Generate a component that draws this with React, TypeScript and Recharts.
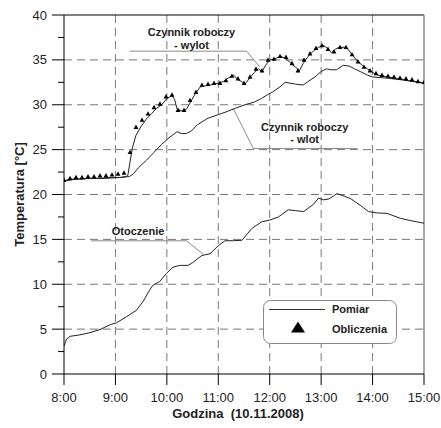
import React from "react"
import {
  ComposedChart,
  Line,
  Scatter,
  XAxis,
  YAxis,
  CartesianGrid,
  ReferenceLine,
  ReferenceDot,
  Legend,
} from "recharts"

// time in decimal hours, temperature in °C
const wylotPomiar: [number, number][] = [
  [8.0, 21.5], [8.1, 21.7], [8.3, 21.7], [8.5, 21.8], [8.7, 21.8], [8.9, 21.9],
  [9.1, 21.9], [9.2, 22.0], [9.24, 22.1], [9.28, 23.5], [9.33, 25.2], [9.4, 26.6],
  [9.5, 27.6], [9.6, 28.4], [9.7, 29.0], [9.8, 29.6], [9.9, 30.0], [10.0, 30.7],
  [10.1, 31.0], [10.15, 30.6], [10.2, 29.5], [10.3, 29.3], [10.38, 29.5], [10.45, 30.2],
  [10.55, 31.2], [10.65, 32.0], [10.75, 32.1], [10.85, 32.2], [11.0, 32.4], [11.1, 32.6],
  [11.2, 33.0], [11.3, 33.3], [11.38, 32.8], [11.45, 32.6], [11.52, 32.3], [11.6, 32.9],
  [11.7, 33.6], [11.78, 34.0], [11.85, 33.7], [11.92, 34.4], [12.0, 35.0], [12.1, 35.1],
  [12.2, 35.4], [12.3, 35.2], [12.4, 34.7], [12.5, 34.2], [12.58, 33.8], [12.65, 34.6],
  [12.75, 35.4], [12.85, 36.0], [12.95, 36.4], [13.05, 36.6], [13.12, 36.3], [13.2, 35.8],
  [13.28, 36.2], [13.35, 36.4], [13.45, 36.4], [13.52, 36.2], [13.6, 35.6], [13.7, 34.9],
  [13.8, 34.4], [13.9, 34.0], [14.0, 33.6], [14.1, 33.3], [14.3, 33.1], [14.5, 32.9],
  [14.7, 32.7], [14.9, 32.55], [15.0, 32.4],
]

const wlotPomiar: [number, number][] = [
  [8.0, 21.5], [8.2, 21.7], [8.5, 21.8], [8.8, 21.8], [9.1, 21.9], [9.27, 22.0],
  [9.35, 22.3], [9.45, 23.0], [9.6, 23.8], [9.75, 24.7], [9.9, 25.6], [10.06, 26.4],
  [10.2, 27.0], [10.28, 26.8], [10.38, 26.8], [10.48, 27.1], [10.6, 27.8], [10.8, 28.5],
  [11.0, 28.9], [11.15, 29.2], [11.33, 29.6], [11.52, 30.0], [11.7, 30.3], [11.84, 30.7],
  [11.95, 31.1], [12.05, 31.4], [12.2, 32.0], [12.3, 32.5], [12.5, 32.3], [12.65, 32.2],
  [12.75, 32.6], [12.88, 33.1], [13.0, 33.7], [13.1, 34.0], [13.2, 33.9], [13.3, 33.9],
  [13.43, 34.4], [13.55, 34.3], [13.65, 34.0], [13.76, 33.7], [13.9, 33.3], [14.0, 33.1],
  [14.3, 32.95], [14.6, 32.75], [15.0, 32.4],
]

const otoczenie: [number, number][] = [
  [8.0, 3.1], [8.05, 3.9], [8.12, 4.2], [8.3, 4.35], [8.5, 4.6], [8.7, 4.95],
  [8.9, 5.5], [9.02, 5.7], [9.22, 6.4], [9.41, 7.1], [9.54, 8.1], [9.67, 9.4],
  [9.73, 9.9], [9.86, 10.3], [9.99, 11.2], [10.12, 11.9], [10.25, 12.1], [10.41, 12.1],
  [10.5, 12.4], [10.68, 13.2], [10.84, 13.4], [11.0, 14.3], [11.13, 14.85], [11.29, 14.85],
  [11.46, 14.9], [11.65, 16.2], [11.84, 16.95], [12.0, 17.15], [12.17, 17.5], [12.36, 18.3],
  [12.5, 18.2], [12.66, 18.1], [12.85, 18.9], [12.95, 19.6], [13.04, 19.4], [13.15, 19.5],
  [13.31, 20.1], [13.57, 19.55], [13.76, 18.8], [13.92, 18.1], [14.08, 17.95], [14.28, 17.9],
  [14.54, 17.35], [14.73, 17.1], [15.0, 16.8],
]

const obliczeniaCzas = [
  "8:00", "8:07", "8:14", "8:21", "8:28", "8:35", "8:42", "8:49", "8:56", "9:03",
  "9:10", "9:17", "9:24", "9:31", "9:38", "9:45", "9:52", "9:59", "10:06", "10:13",
  "10:20", "10:27", "10:34", "10:41", "10:48", "10:55", "11:02", "11:09", "11:16", "11:23",
  "11:30", "11:37", "11:44", "11:51", "11:58", "12:05", "12:12", "12:19", "12:26", "12:33",
  "12:40", "12:47", "12:54", "13:01", "13:08", "13:15", "13:22", "13:29", "13:36", "13:43",
  "13:50", "13:57", "14:04", "14:11", "14:18", "14:25", "14:32", "14:39", "14:46", "14:53",
  "15:00",
]
const obliczeniaWylot = [
  21.6, 21.8, 21.9, 21.9, 22.0, 22.0, 22.1, 22.1, 22.2, 22.3,
  22.4, 24.7, 27.5, 28.3, 29.0, 29.7, 30.1, 30.9, 31.1, 29.4,
  29.4, 30.5, 31.4, 32.2, 32.3, 32.4, 32.4, 32.7, 33.2, 32.9,
  32.4, 33.1, 34.0, 33.8, 35.0, 35.1, 35.4, 35.3, 34.6, 33.8,
  35.0, 35.7, 36.3, 36.6, 36.2, 35.9, 36.4, 36.4, 35.6, 34.8,
  34.2, 33.8, 33.5, 33.3, 33.2, 33.1, 33.0, 32.9, 32.8, 32.6,
  32.5,
]

const xTicks = [8, 9, 10, 11, 12, 13, 14, 15]
const yTicks = [0, 2.5, 5, 7.5, 10, 12.5, 15, 17.5, 20, 22.5, 25, 27.5, 30, 32.5, 35, 37.5, 40]
const yGrid = [5, 10, 15, 20, 25, 30, 35]

const toRows = (pts: [number, number][]) => pts.map(([t, v]) => ({ t, v }))
const parseTime = (s: string) => {
  const [h, m] = s.split(":").map(Number)
  return h + m / 60
}
const calcRows = obliczeniaCzas.map((s, i) => ({ t: parseTime(s), v: obliczeniaWylot[i] }))

const FONT = "'Liberation Sans', Arial, sans-serif"
const LEADER = "#8a8a8a"

const YTick = (props: any) => {
  const { x, y, payload } = props
  const major = payload.value % 5 === 0
  const axisX = x + 12 + 5
  return (
    <g>
      <line x1={axisX - (major ? 12 : 6)} x2={axisX} y1={y} y2={y} stroke="#000" />
      {major && (
        <text x={x} y={y} dy={4.5} textAnchor="end" fontSize={13} fill="#222" fontFamily={FONT}>
          {payload.value}
        </text>
      )}
    </g>
  )
}

const Triangle = (props: any) => {
  const { cx, cy } = props
  return <polygon points={`${cx},${cy - 2.6} ${cx + 2.4},${cy + 1.8} ${cx - 2.4},${cy + 1.8}`} fill="#000" />
}

const noteText = (lines: string[]) => (props: any) => {
  const { cx, cy } = props
  return (
    <text x={cx} y={cy} textAnchor="middle" fontSize={11} fontWeight="bold" fill="#222" fontFamily={FONT}>
      {lines.map((l, i) => (
        <tspan key={i} x={cx} dy={i === 0 ? 0 : 12.5}>
          {l}
        </tspan>
      ))}
    </text>
  )
}

const LegendBox = () => (
  <svg width={134} height={44} style={{ display: "block" }}>
    <rect x={0.5} y={0.5} width={133} height={43} rx={7} fill="#fff" stroke="#888" />
    <line x1={6} y1={9.5} x2={62} y2={9.5} stroke="#333" />
    <text x={69} y={13} fontSize={11} fontWeight="bold" fill="#222" fontFamily={FONT}>
      Pomiar
    </text>
    <polygon points="35,21.5 42,32.5 28,32.5" fill="#000" />
    <text x={69} y={32.5} fontSize={11} fontWeight="bold" fill="#222" fontFamily={FONT}>
      Obliczenia
    </text>
  </svg>
)

export default function App() {
  return (
    <div style={{ position: "absolute", left: 0, top: 0, width: 441, height: 428, background: "#fff" }}>
      <ComposedChart width={441} height={428} margin={{ top: 15, right: 17, bottom: 12, left: 0 }}>
        <CartesianGrid
          stroke="#777"
          strokeDasharray="8 5"
          horizontalValues={yGrid}
          verticalValues={[9, 10, 11, 12, 13, 14]}
        />
        <XAxis
          dataKey="t"
          type="number"
          domain={[8, 15]}
          ticks={xTicks}
          allowDataOverflow
          tickFormatter={(h: number) => `${h}:00`}
          stroke="#000"
          tickSize={11}
          tickMargin={8}
          height={42}
          tick={{ fontSize: 13, fill: "#222", fontFamily: FONT }}
          label={{
            content: (p: any) => {
              const vb = p.viewBox
              return (
                <text
                  x={vb.x + vb.width / 2 - 6}
                  y={vb.y + 44}
                  textAnchor="middle"
                  fontSize={13}
                  fontWeight="bold"
                  fill="#222"
                  fontFamily={FONT}
                  style={{ whiteSpace: "pre" }}
                >
                  {"Godzina  (10.11.2008)"}
                </text>
              )
            },
          }}
        />
        <YAxis
          type="number"
          domain={[0, 40]}
          ticks={yTicks}
          interval={0}
          width={64}
          stroke="#000"
          tickSize={12}
          tickMargin={5}
          tickLine={false}
          tick={<YTick />}
          label={{
            content: (p: any) => {
              const vb = p.viewBox
              const cy = vb.y + vb.height / 2
              return (
                <text
                  x={24}
                  y={cy}
                  transform={`rotate(-90, 24, ${cy})`}
                  textAnchor="middle"
                  fontSize={13}
                  fontWeight="bold"
                  fill="#222"
                  fontFamily={FONT}
                >
                  Temperatura [°C]
                </text>
              )
            },
          }}
        />
        <ReferenceLine y={40} stroke="#000" />
        <ReferenceLine x={15} stroke="#888" strokeWidth={1.5} />

        {/* leader lines */}
        <ReferenceLine segment={[{ x: 9.28, y: 35.97 }, { x: 11.55, y: 35.97 }]} stroke={LEADER} />
        <ReferenceLine segment={[{ x: 11.55, y: 35.97 }, { x: 11.81, y: 34.19 }]} stroke={LEADER} />
        <ReferenceLine segment={[{ x: 11.29, y: 29.59 }, { x: 11.68, y: 25.13 }]} stroke={LEADER} />
        <ReferenceLine segment={[{ x: 11.68, y: 25.13 }, { x: 13.7, y: 25.13 }]} stroke={LEADER} />
        <ReferenceLine segment={[{ x: 8.53, y: 14.84 }, { x: 10.38, y: 14.84 }]} stroke={LEADER} />
        <ReferenceLine segment={[{ x: 10.38, y: 14.84 }, { x: 10.71, y: 13.33 }]} stroke={LEADER} />

        <Line data={toRows(otoczenie)} dataKey="v" type="linear" stroke="#222" strokeWidth={1} dot={false} isAnimationActive={false} />
        <Line data={toRows(wlotPomiar)} dataKey="v" type="linear" stroke="#222" strokeWidth={1} dot={false} isAnimationActive={false} />
        <Line data={toRows(wylotPomiar)} dataKey="v" type="linear" stroke="#222" strokeWidth={1} dot={false} isAnimationActive={false} />
        <Scatter data={calcRows} dataKey="v" shape={<Triangle />} isAnimationActive={false} />

        <ReferenceDot x={10.48} y={37.64} r={0} shape={noteText(["Czynnik roboczy", "- wylot"])} />
        <ReferenceDot x={12.68} y={27.09} r={0} shape={noteText(["Czynnik roboczy", "- wlot"])} />
        <ReferenceDot x={9.44} y={15.48} r={0} shape={noteText(["Otoczenie"])} />

        <Legend
          layout="vertical"
          align="center"
          verticalAlign="middle"
          content={() => <LegendBox />}
          wrapperStyle={{ position: "absolute", left: 263, top: 300, width: 134, height: 44 }}
        />
      </ComposedChart>
    </div>
  )
}
